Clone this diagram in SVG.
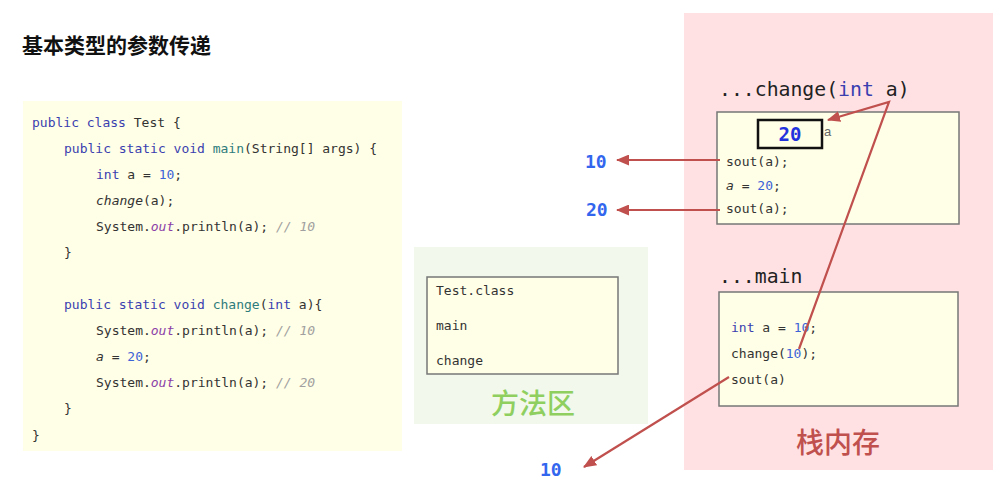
<svg xmlns="http://www.w3.org/2000/svg" width="1007" height="494" viewBox="0 0 1007 494">
  <defs>
    <style>
      .title { font-family: "Noto Sans CJK SC", sans-serif; font-weight: bold; font-size: 21px; fill: #111; }
      .code { font-family: "DejaVu Sans Mono", "Liberation Mono", monospace; font-size: 13px; fill: #333; }
      .kw { fill: #3a3fb0; }
      .fn { fill: #2e7c7c; }
      .num { fill: #3d63d8; }
      .fld { fill: #8a3ea8; font-style: italic; }
      .cmt { fill: #a0a0a0; font-style: italic; }
      .it { font-style: italic; }
      .head { font-family: "DejaVu Sans Mono", "Liberation Mono", monospace; font-size: 19.8px; fill: #222; }
      .out { font-family: "DejaVu Sans Mono", "Liberation Mono", monospace; font-size: 18px; font-weight: bold; fill: #3366ee; }
      .frame { fill: #fffee6; stroke: #777; stroke-width: 1.5; }
      .area-label { font-family: "Noto Sans CJK SC", sans-serif; font-weight: 500; font-size: 28px; text-anchor: middle; }
      .link { fill: none; stroke: #c0504d; stroke-width: 2.2; }
    </style>
    <marker id="arrow" viewBox="0 0 12 10" refX="11" refY="5" markerWidth="6" markerHeight="5" orient="auto-start-reverse" markerUnits="strokeWidth">
      <path d="M0,0 L12,5 L0,10 z" fill="#c0504d"/>
    </marker>
  </defs>

  <rect width="1007" height="494" fill="#ffffff"/>

  <!-- heading -->
  <text class="title" x="22" y="53">基本类型的参数传递</text>

  <!-- source listing -->
  <g id="code">
    <rect x="23" y="101" width="379" height="350" fill="#fffee6"/>
    <text class="code" x="32" y="127"><tspan class="kw">public class</tspan> Test {</text>
    <text class="code" x="64" y="153"><tspan class="kw">public static void</tspan> <tspan class="fn">main</tspan>(String[] args) {</text>
    <text class="code" x="96" y="179"><tspan class="kw">int</tspan> a = <tspan class="num">10</tspan>;</text>
    <text class="code" x="96" y="205"><tspan class="it">change</tspan>(a);</text>
    <text class="code" x="96" y="231">System.<tspan class="fld">out</tspan>.println(a); <tspan class="cmt">// 10</tspan></text>
    <text class="code" x="64" y="257">}</text>
    <text class="code" x="64" y="309"><tspan class="kw">public static void</tspan> <tspan class="fn">change</tspan>(<tspan class="kw">int</tspan> a){</text>
    <text class="code" x="96" y="335">System.<tspan class="fld">out</tspan>.println(a); <tspan class="cmt">// 10</tspan></text>
    <text class="code" x="96" y="361"><tspan class="it">a</tspan> = <tspan class="num">20</tspan>;</text>
    <text class="code" x="96" y="387">System.<tspan class="fld">out</tspan>.println(a); <tspan class="cmt">// 20</tspan></text>
    <text class="code" x="64" y="413">}</text>
    <text class="code" x="32" y="440">}</text>
  </g>

  <!-- method area -->
  <g id="method-area">
    <rect x="414" y="247" width="234" height="177" fill="#f2f8ec"/>
    <rect x="427" y="277" width="191" height="97" class="frame" stroke="#555"/>
    <text class="code" x="436" y="295">Test.class</text>
    <text class="code" x="436" y="330">main</text>
    <text class="code" x="436" y="365">change</text>
    <text class="area-label" x="533" y="414" fill="#8fcf5f">方法区</text>
  </g>

  <!-- stack memory -->
  <g id="stack">
    <rect x="684" y="13" width="309" height="457" fill="#ffe1e4"/>
    <text class="area-label" x="838" y="453" fill="#c0504d">栈内存</text>
  </g>

  <g id="change-frame">
    <text class="head" x="719" y="96">...change(<tspan class="kw">int</tspan> a)</text>
    <rect x="717" y="112" width="242" height="112" class="frame"/>
    <rect x="758" y="120" width="64" height="28" fill="#fffee6" stroke="#111" stroke-width="2.5"/>
    <text x="790" y="141" text-anchor="middle" font-family="DejaVu Sans Mono, monospace" font-size="19" font-weight="bold" fill="#2233dd">20</text>
    <text x="824" y="136" font-family="Liberation Sans, sans-serif" font-size="13" fill="#666">a</text>
    <text class="code" x="726" y="166">sout(a);</text>
    <text class="code" x="726" y="190"><tspan class="it">a</tspan> = <tspan class="num">20</tspan>;</text>
    <text class="code" x="726" y="213">sout(a);</text>
  </g>

  <g id="main-frame">
    <text class="head" x="719" y="283">...main</text>
    <rect x="719" y="292" width="239" height="114" class="frame"/>
    <text class="code" x="731" y="332"><tspan class="kw">int</tspan> a = <tspan class="num">10</tspan>;</text>
    <text class="code" x="731" y="358">change(<tspan class="num">10</tspan>);</text>
    <text class="code" x="731" y="384">sout(a)</text>
  </g>

  <!-- printed values -->
  <g id="outputs">
    <text class="out" x="585" y="168">10</text>
    <text class="out" x="586" y="216">20</text>
    <text class="out" x="540" y="476">10</text>
  </g>

  <!-- connectors -->
  <g id="connectors">
    <line class="link" x1="720" y1="160" x2="617" y2="160" marker-end="url(#arrow)"/>
    <line class="link" x1="720" y1="210" x2="617" y2="210" marker-end="url(#arrow)"/>
    <polyline class="link" points="799,349 889,102 828,120" marker-end="url(#arrow)"/>
    <line class="link" x1="729" y1="377" x2="584" y2="467" marker-end="url(#arrow)"/>
  </g>
</svg>
